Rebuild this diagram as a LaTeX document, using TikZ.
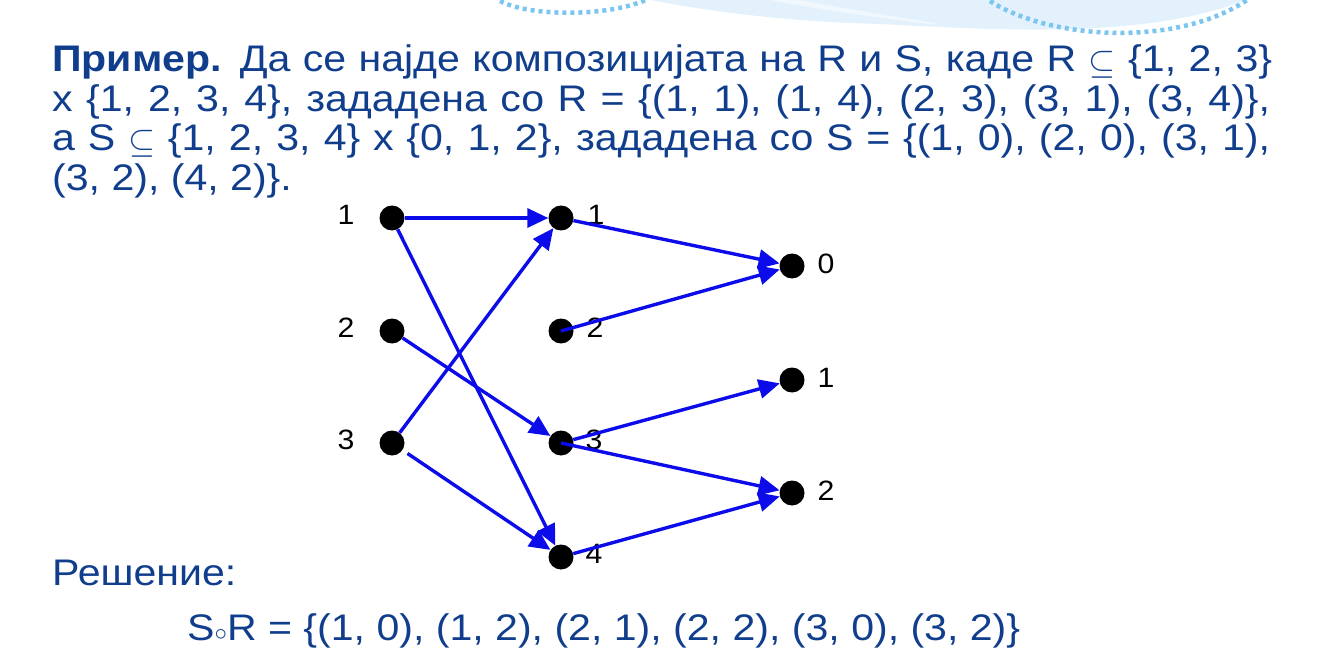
\documentclass[tikz,border=0pt]{standalone}
\usepackage{fontspec}
\setmainfont{Liberation Sans}[FakeStretch=1.11]
\newfontfamily\lblfont{Liberation Sans}[FakeStretch=1.08]
\usetikzlibrary{arrows.meta}
\definecolor{txtblue}{RGB}{16,62,140}
\definecolor{arrblue}{RGB}{12,12,235}
\definecolor{wavefill}{RGB}{226,241,252}
\definecolor{wavedot}{RGB}{122,198,240}
\newcommand{\subsetsym}{\smash{\raisebox{-2pt}{\scalebox{1.4}{$\subseteq$}}}}
\begin{document}
\begin{tikzpicture}[x=1pt,y=-1pt,
  dot/.style={circle,fill=black,minimum size=25pt,inner sep=0pt},
  lbl/.style={font=\lblfont\fontsize{28}{32}\selectfont,text=black,inner sep=0pt},
  txt/.style={anchor=base west,inner sep=0pt,text=txtblue,font=\fontsize{37}{42}\selectfont},
  rel/.style={-{Triangle[length=21pt,width=19pt]},line width=3.4pt,draw=arrblue},
  wavedots/.style={draw=wavedot,line width=4.5pt,dash pattern=on 4pt off 4pt}]
\useasboundingbox (0,0) rectangle (1323,655);
\begin{scope}
\clip (0,0) rectangle (1323,655);
\fill[wavefill] (640,-2) .. controls (720,14) and (800,22) .. (880,24)
  .. controls (1000,30) and (1150,40) .. (1250,-2) -- cycle;
\fill[white,opacity=0.5] (760,-2) .. controls (820,10) and (880,18) .. (930,24)
  -- (940,24) .. controls (880,14) and (830,6) .. (790,-2) -- cycle;
\draw[wavedots] (500,1) .. controls (530,17) and (610,17) .. (648,-1);
\draw[wavedots] (990,1) .. controls (1050,40) and (1180,48) .. (1250,-2);
\end{scope}
% text
\node[txt] (t1) at (52,72) {\makebox[1220pt][s]{\textbf{Пример.} Да се најде композицијата на R и S, каде R \subsetsym{} \{1, 2, 3\}}};
\node[txt] (t2) at (52,111.5) {\makebox[1218pt][s]{x \{1, 2, 3, 4\}, зададена со R = \{(1, 1), (1, 4), (2, 3), (3, 1), (3, 4)\},}};
\node[txt] (t3) at (52,151) {\makebox[1218pt][s]{а S \subsetsym{} \{1, 2, 3, 4\} x \{0, 1, 2\}, зададена со S = \{(1, 0), (2, 0), (3, 1),}};
\node[txt] (t4) at (52,190.5) {(3, 2), (4, 2)\}.};
\node[txt] (sol) at (52,585) {Решение:};
\node[txt] (res) at (187,640) {S$\circ$R = \{(1, 0), (1, 2), (2, 1), (2, 2), (3, 0), (3, 2)\}};
% dots
\node[dot] (a1) at (392,218) {};
\node[dot] (a2) at (392,331) {};
\node[dot] (a3) at (392,443) {};
\node[dot] (b1) at (561,218) {};
\node[dot] (b2) at (561,331) {};
\node[dot] (b3) at (561,443) {};
\node[dot] (b4) at (561,557) {};
\node[dot] (c0) at (792,266) {};
\node[dot] (c1) at (792,380) {};
\node[dot] (c2) at (792,493) {};
% labels
\node[lbl] (la1) at (346,215) {1};
\node[lbl] (la2) at (346,328) {2};
\node[lbl] (la3) at (346,440) {3};
\node[lbl] (lb1) at (596,215) {1};
\node[lbl] (lb2) at (595,328) {2};
\node[lbl] (lb3) at (594,440) {3};
\node[lbl] (lb4) at (594,554) {4};
\node[lbl] (lc0) at (826,264) {0};
\node[lbl] (lc1) at (826,378) {1};
\node[lbl] (lc2) at (826,491) {2};
% relation R
\draw[rel] (a1) -- (b1);
\draw[rel] (a1) -- (b4);
\draw[rel] (a2) -- (b3);
\draw[rel] (a3) -- (b1);
\draw[rel,shorten <=6pt] (a3) -- (b4);
% relation S
\draw[rel] (b1) -- (c0);
\draw[rel] (b2.center) -- (c0);
\draw[rel] (b3) -- (c1);
\draw[rel] (b3.center) -- (c2);
\draw[rel] (b4) -- (c2);
\end{tikzpicture}
\end{document}
